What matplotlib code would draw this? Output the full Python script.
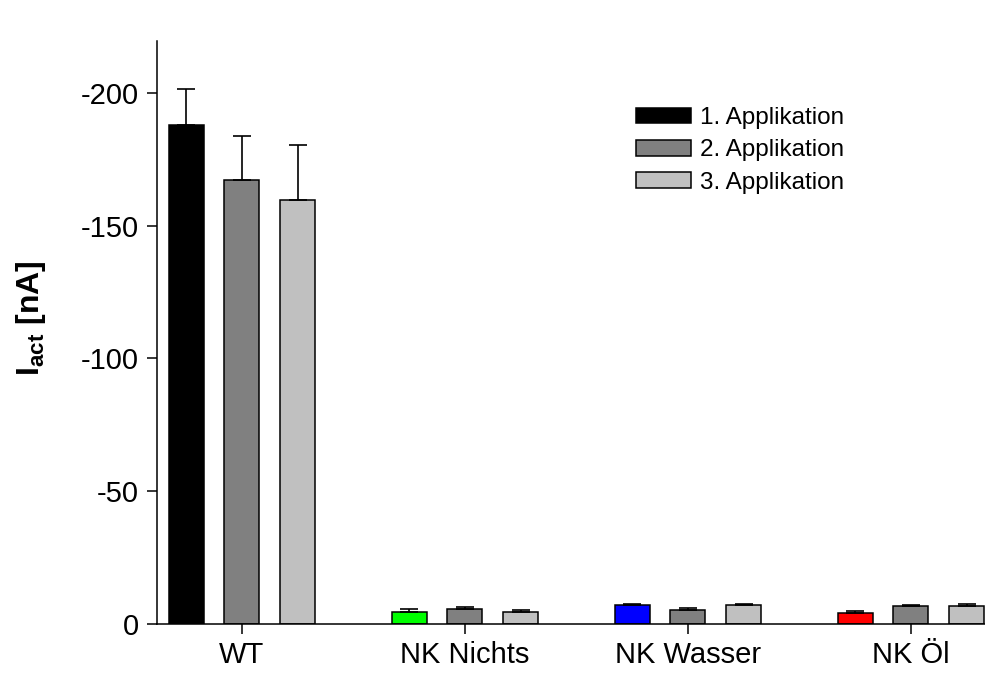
import matplotlib
matplotlib.use("Agg")
import matplotlib.pyplot as plt
import numpy as np
from matplotlib.patches import Patch

plt.rcParams['font.family'] = ['Liberation Sans', 'DejaVu Sans']
plt.rcParams['mathtext.fontset'] = 'custom'
plt.rcParams['mathtext.rm'] = 'Liberation Sans'
plt.rcParams['mathtext.bf'] = 'Liberation Sans:bold'

groups = ["WT", "NK Nichts", "NK Wasser", "NK Öl"]
series_names = ["1. Applikation", "2. Applikation", "3. Applikation"]

# mean activation current (nA) per group and application
app1 = [-188.0, -4.6, -7.1, -4.3]
app2 = [-167.0, -5.5, -5.4, -6.8]
app3 = [-159.8, -4.5, -7.1, -6.8]

# standard errors
err1 = [13.5, 1.0, 0.5, 0.7]
err2 = [16.6, 0.8, 0.7, 0.5]
err3 = [20.7, 0.8, 0.5, 0.8]

first_colors = ["#000000", "#00ff00", "#0000ff", "#ff0000"]
gray2 = "#808080"
gray3 = "#c0c0c0"

yticks = [0, -50, -100, -150, -200]

fig = plt.figure(figsize=(9.85, 6.74), dpi=100)
ax = fig.add_axes([157 / 985, 1 - 624 / 674, 828 / 985, (624 - 41) / 674])

x = np.arange(len(groups))
offset = 0.25
width = 0.157

values = [app1, app2, app3]
errors = [err1, err2, err3]
colors = [first_colors, [gray2] * 4, [gray3] * 4]

for i in range(3):
    xpos = x + (i - 1) * offset
    ax.bar(xpos, values[i], width=width, color=colors[i],
           edgecolor="black", linewidth=1.1, zorder=2)
    ax.errorbar(xpos, values[i], yerr=[errors[i], np.zeros(4)], fmt="none",
                ecolor="black", elinewidth=1.2, capsize=6.8, capthick=1.2,
                zorder=3)

ax.set_xlim(-0.381, 3.332)
ax.set_ylim(0, -219.5)
ax.set_yticks(yticks)
ax.set_yticklabels([str(t) for t in yticks])
ax.set_xticks(x)
ax.set_xticklabels(groups)

for s in ["top", "right"]:
    ax.spines[s].set_visible(False)
for s in ["left", "bottom"]:
    ax.spines[s].set_linewidth(1.1)

ax.tick_params(axis="both", direction="out", width=1.1, length=7,
               labelsize=21, pad=6)
ax.tick_params(axis="x", pad=5)

ax.set_ylabel(r"$\mathbf{I}_{\mathbf{act}}$ [nA]", fontsize=23,
              fontweight="bold")
ax.yaxis.set_label_coords(-0.1316, 0.525)

handles = [Patch(facecolor=c, edgecolor="black", linewidth=1.1)
           for c in ["#000000", gray2, gray3]]
ax.legend(handles, series_names, loc="upper left",
          bbox_to_anchor=((636 - 157) / 828, (624 - 107) / 583),
          frameon=False, fontsize=17.5, handlelength=2.26, handleheight=0.62,
          labelspacing=0.43, handletextpad=0.37, borderaxespad=0, borderpad=0)

fig.savefig("out.png", dpi=100)
